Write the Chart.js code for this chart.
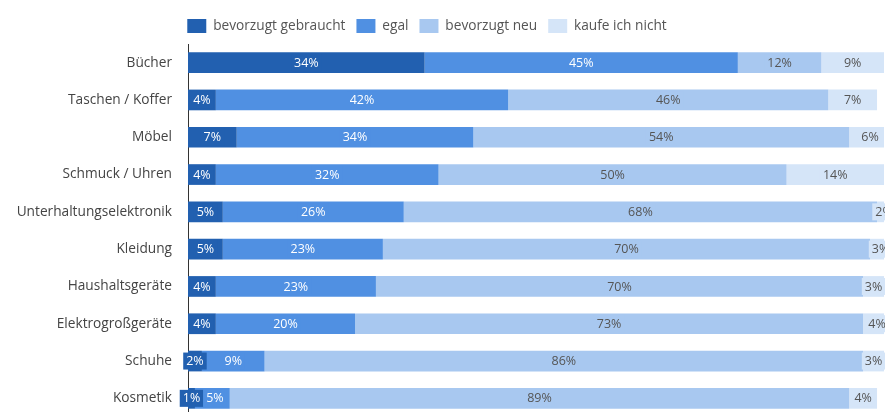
<!DOCTYPE html>
<html><head><meta charset="utf-8">
<script src="https://cdn.jsdelivr.net/npm/chart.js@4/dist/chart.umd.min.js"></script>
<style>
html,body{margin:0;padding:0;background:#fff;overflow:hidden}
canvas{display:block}
</style>
</head><body>
<canvas id="c" width="885" height="417"></canvas>
<script>
const categories = ['Bücher','Taschen / Koffer','Möbel','Schmuck / Uhren','Unterhaltungselektronik','Kleidung','Haushaltsgeräte','Elektrogroßgeräte','Schuhe','Kosmetik'];
const seriesNames = ['bevorzugt gebraucht','egal','bevorzugt neu','kaufe ich nicht'];
const gebraucht = [34,4,7,4,5,5,4,4,2,1];
const egal      = [45,42,34,32,26,23,23,20,9,5];
const neu       = [12,46,54,50,68,70,70,73,86,89];
const nicht     = [9,7,6,14,2,3,3,4,3,4];

const colors = ['#2260b0','#5090e2','#a8c8f0','#d5e5f8'];
const labelColors = ['#ffffff','#ffffff','#555555','#555555'];
const seriesData = [gebraucht, egal, neu, nicht];

const FONT = '"Open Sans", "DejaVu Sans", sans-serif';

const barLabels = {
  id: 'barLabels',
  afterDatasetsDraw(chart) {
    const ctx = chart.ctx;
    ctx.save();
    ctx.font = '12.5px ' + FONT;
    ctx.textBaseline = 'middle';
    ctx.textAlign = 'center';
    const n = chart.data.labels.length;
    for (let i = 0; i < n; i++) {
      let prevRight = -Infinity;
      chart.data.datasets.forEach((ds, d) => {
        const el = chart.getDatasetMeta(d).data[i];
        const txt = ds.data[i] + '%';
        const w = ctx.measureText(txt).width + 6;
        const h = 17;
        let left = (el.x + el.base) / 2 - w / 2;
        if (left < prevRight) left = prevRight;
        ctx.fillStyle = ds.backgroundColor;
        ctx.fillRect(left, el.y - h / 2, w, h);
        ctx.fillStyle = labelColors[d];
        ctx.fillText(txt, left + w / 2, el.y + 0.5);
        prevRight = left + w;
      });
    }
    ctx.restore();
  }
};

const legendShift = {
  id: 'legendShift',
  afterLayout(chart) {
    const lg = chart.legend;
    if (lg) { lg.left -= 15; lg.right -= 15; lg.top -= 1; lg.bottom -= 1; }
  }
};

new Chart(document.getElementById('c'), {
  type: 'bar',
  data: {
    labels: categories,
    datasets: seriesNames.map((name, k) => ({
      label: name,
      data: seriesData[k],
      backgroundColor: colors[k],
      borderWidth: 0,
      categoryPercentage: 1,
      barPercentage: 0.555
    }))
  },
  options: {
    indexAxis: 'y',
    responsive: false,
    animation: false,
    layout: { padding: { top: 9, right: 1, bottom: 0, left: 0 } },
    plugins: {
      tooltip: { enabled: false },
      legend: {
        position: 'top',
        labels: {
          boxWidth: 19,
          boxHeight: 14,
          padding: 11,
          color: '#555555',
          font: { family: FONT, size: 13.7 }
        }
      }
    },
    scales: {
      x: {
        stacked: true,
        min: 0,
        max: 100,
        display: false
      },
      y: {
        stacked: true,
        grid: { display: false },
        border: { display: true, color: '#333333', width: 1 },
        ticks: {
          color: '#444444',
          padding: 8,
          font: { family: FONT, size: 13.7 }
        },
        afterFit(scale) {
          scale.width = 188;
          scale.paddingTop = 0;
          scale.paddingBottom = 0;
        }
      }
    }
  },
  plugins: [barLabels, legendShift]
});
</script>
</body></html>
